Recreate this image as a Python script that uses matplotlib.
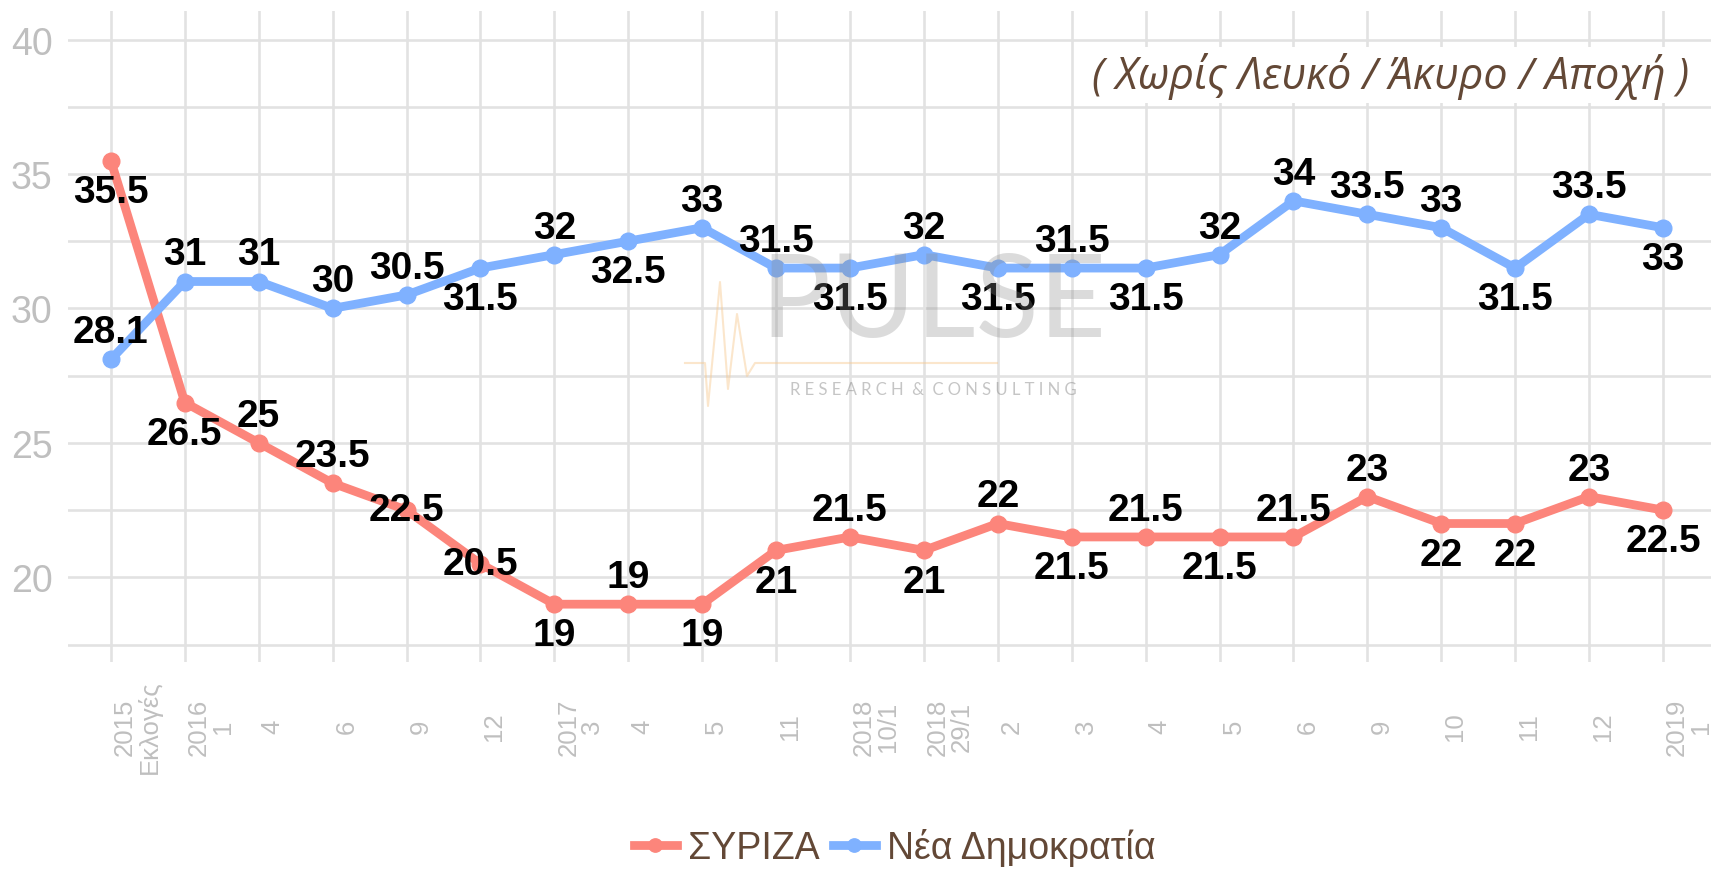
import matplotlib
matplotlib.use("Agg")
import matplotlib.pyplot as plt
import matplotlib.transforms as mtrans
from matplotlib.lines import Line2D

plt.rcParams['font.family'] = ['Liberation Sans', 'DejaVu Sans']

# data
periods = ["2015\nΕκλογές", "2016\n1", "4", "6", "9", "12", "2017\n3", "4", "5", "11",
           "2018\n10/1", "2018\n29/1", "2", "3", "4", "5", "6", "9", "10", "11", "12", "2019\n1"]
syriza = [35.5, 26.5, 25, 23.5, 22.5, 20.5, 19, 19, 19, 21, 21.5,
          21, 22, 21.5, 21.5, 21.5, 21.5, 23, 22, 22, 23, 22.5]
nd = [28.1, 31, 31, 30, 30.5, 31.5, 32, 32.5, 33, 31.5, 31.5,
      32, 31.5, 31.5, 31.5, 32, 34, 33.5, 33, 31.5, 33.5, 33]

# label placement: a = above, b = below, o = on the point
syriza_pos = ["b", "b", "a", "a", "o", "o", "b", "a", "b", "b", "a",
              "b", "a", "b", "a", "b", "a", "a", "b", "b", "a", "b"]
nd_pos = ["a", "a", "a", "a", "a", "b", "a", "b", "a", "a", "b",
          "a", "b", "a", "b", "a", "a", "a", "a", "b", "a", "b"]
offsets = {"a": 19.5, "b": -22.5, "o": 0}

red = '#fc857b'
blue = '#7fb1ff'
grid_c = '#e2e2e2'
tick_c = '#bfbfbf'
brown = '#634836'

fig = plt.figure(figsize=(17.11, 8.70), dpi=100)
ax = fig.add_axes([68/1711, 1 - 663/870, 1 - 68/1711, (663 - 12)/870])

x = list(range(len(periods)))
ax.plot(x, syriza, color=red, lw=6.3, marker='o', ms=12, zorder=3, label='ΣΥΡΙΖΑ')
ax.plot(x, nd, color=blue, lw=6.3, marker='o', ms=12, zorder=3, label='Νέα Δημοκρατία')

def fmt(v):
    return str(int(v)) if v == int(v) else str(v)

for vals, pos in ((syriza, syriza_pos), (nd, nd_pos)):
    for i, v in enumerate(vals):
        ax.annotate(fmt(v), (i, v), xytext=(0, offsets[pos[i]]), textcoords='offset points',
                    ha='center', va='center', fontsize=28, fontweight='bold',
                    color='black', zorder=5)

ax.set_xlim(-0.58, 21.65)
ax.set_ylim(16.85, 41.06)
ax.set_yticks([20, 25, 30, 35, 40])
ax.set_yticks([17.5, 22.5, 27.5, 32.5, 37.5], minor=True)
ax.set_xticks(x)
ax.set_xticklabels(periods, rotation=90, ha='left', va='center', multialignment='center',
                   fontsize=18.5, color=tick_c, linespacing=1.0)
ax.tick_params(axis='x', length=0, pad=46)
ax.tick_params(axis='y', which='both', length=0, pad=11, labelsize=27, labelcolor=tick_c)
ax.grid(True, which='both', color=grid_c, lw=1.9)
ax.set_axisbelow(True)
for s in ax.spines.values():
    s.set_visible(False)

# small shift of x labels to the right
shift = mtrans.ScaledTranslation(2/100, 0, fig.dpi_scale_trans)
for lab in ax.get_xticklabels():
    lab.set_transform(lab.get_transform() + shift)

# note
fig.text(1689/1711, 1 - 76/870, "( Χωρίς Λευκό / Άκυρο / Αποχή )", ha='right', va='center',
         fontsize=31, style='italic', color=brown, family=['Open Sans', 'DejaVu Sans'],
         bbox=dict(facecolor='white', edgecolor='none', pad=3))

# watermark
fig.text(933/1711, 1 - 304/870, "PULSE", ha='center', va='center', fontsize=84,
         family=['Lato', 'DejaVu Sans'], color='#8a8a8a', alpha=0.3, zorder=10)
fig.text(933/1711, 1 - 390/870, "R E S E A R C H  &  C O N S U L T I N G", ha='center', va='center',
         fontsize=12, family=['Lato', 'DejaVu Sans'], color='#808080', alpha=0.45, zorder=10)
hx = [685, 705, 708, 720, 728, 737, 747, 755, 997]
hy = [364, 364, 407, 283, 390, 315, 377, 364, 364]
fig.add_artist(Line2D([v/1711 for v in hx], [1 - v/870 for v in hy], color='#f7c98f',
                      alpha=0.45, lw=1.5, zorder=10))

leg = fig.legend(loc='center', bbox_to_anchor=(0.523, 0.025), ncol=2, frameon=False,
                 fontsize=27, handlelength=1.15, handletextpad=0.3, columnspacing=0.35,
                 markerscale=0.8)
for t in leg.get_texts():
    t.set_color(brown)

fig.savefig("out.png", dpi=100, facecolor='white')
